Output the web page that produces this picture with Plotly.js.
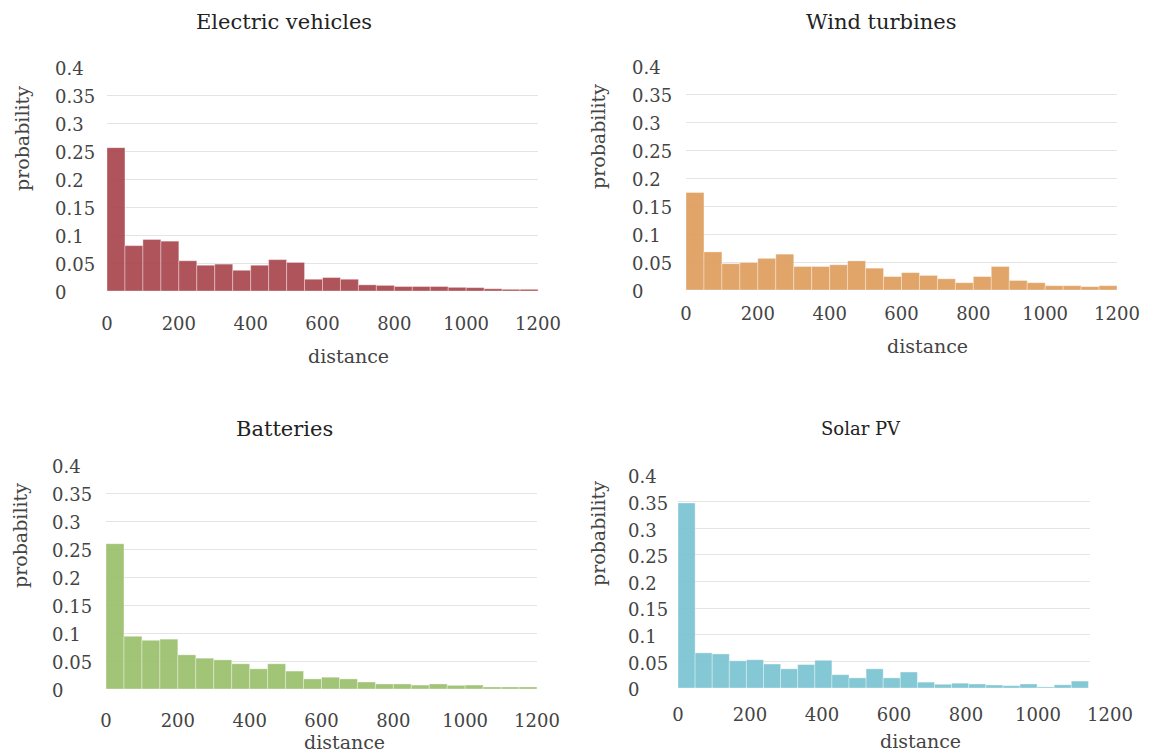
<!DOCTYPE html>
<html>
<head>
<meta charset="utf-8">
<script src="https://cdn.plot.ly/plotly-3.0.1.min.js"></script>
<style>
  html, body { margin: 0; padding: 0; background: #ffffff; }
  #chart { width: 1150px; height: 756px; }
</style>
</head>
<body>
<div id="chart"></div>
<script>
// ---------------- data ----------------
const panelTitles = ["Electric vehicles", "Wind turbines", "Batteries", "Solar PV"];
const binStarts = [0, 50, 100, 150, 200, 250, 300, 350, 400, 450, 500, 550,
                   600, 650, 700, 750, 800, 850, 900, 950, 1000, 1050, 1100, 1150];
const solarBinStarts = [0, 47.5, 95, 142.5, 190, 237.5, 285, 332.5, 380, 427.5, 475, 522.5,
                        570, 617.5, 665, 712.5, 760, 807.5, 855, 902.5, 950, 997.5, 1045, 1092.5];
const evValues = [0.256, 0.081, 0.092, 0.089, 0.054, 0.046, 0.048, 0.037, 0.046, 0.056, 0.051, 0.021,
                  0.024, 0.021, 0.011, 0.010, 0.008, 0.008, 0.008, 0.0065, 0.006, 0.004, 0.003, 0.003];
const windValues = [0.174, 0.068, 0.047, 0.049, 0.0565, 0.064, 0.042, 0.042, 0.045, 0.052, 0.039, 0.024,
                    0.031, 0.026, 0.020, 0.013, 0.024, 0.042, 0.017, 0.013, 0.0077, 0.0077, 0.006, 0.0077];
const batteryValues = [0.2595, 0.094, 0.087, 0.089, 0.061, 0.055, 0.052, 0.045, 0.036, 0.045, 0.032, 0.018,
                       0.021, 0.018, 0.0125, 0.009, 0.009, 0.007, 0.009, 0.0065, 0.007, 0.0036, 0.0036, 0.0036];
const solarValues = [0.3475, 0.066, 0.064, 0.051, 0.053, 0.045, 0.036, 0.044, 0.052, 0.025, 0.019, 0.036,
                     0.019, 0.030, 0.011, 0.007, 0.009, 0.0075, 0.0056, 0.0044, 0.0075, 0.002, 0.006, 0.013];
const yTickVals = [0, 0.05, 0.1, 0.15, 0.2, 0.25, 0.3, 0.35, 0.4];
const yTickText = ["0", "0.05", "0.1", "0.15", "0.2", "0.25", "0.3", "0.35", "0.4"];
const gridVals = [0.05, 0.1, 0.15, 0.2, 0.25, 0.3, 0.35];
const xTickVals = [0, 200, 400, 600, 800, 1000, 1200];
const xTickText = ["0", "200", "400", "600", "800", "1000", "1200"];
const xTitle = "distance";
const yTitle = "probability";

// ---------------- layout (pixels) ----------------
const W = 1150, H = 756;
const FONT = "DejaVu Serif, Liberation Serif, serif";
const panels = [
  { starts: binStarts, values: evValues, width: 50, color: "rgba(167,65,73,0.9)",
    grid: [107, 538], lab: [107, 538], y: [67, 291],
    title: [284, 22, 21], xt: [348, 356], yt: [22, 139], xStand: 20, yStand: -55 },
  { starts: binStarts, values: windValues, width: 50, color: "rgba(222,154,89,0.9)",
    grid: [686, 1117], lab: [686, 1117], y: [66, 290],
    title: [881, 22, 21], xt: [927, 346], yt: [598, 137], xStand: 11, yStand: -57 },
  { starts: binStarts, values: batteryValues, width: 50, color: "rgba(151,190,104,0.9)",
    grid: [106, 537], lab: [106, 537], y: [465, 689],
    title: [284, 429, 21], xt: [344, 742], yt: [20, 536], xStand: 19, yStand: -57 },
  { starts: solarBinStarts, values: solarValues, width: 47.5, color: "rgba(118,194,207,0.9)",
    grid: [678, 1090], lab: [678, 1110], y: [475, 688],
    title: [861, 428, 18], xt: [920, 741], yt: [598, 534], xStand: 14, yStand: -53 }
];

const fx = p => p / W;
const fy = p => 1 - p / H;

const data = [];
const layout = {
  width: W, height: H,
  margin: { l: 0, r: 0, t: 0, b: 0 },
  paper_bgcolor: "#ffffff",
  plot_bgcolor: "rgba(0,0,0,0)",
  showlegend: false,
  font: { family: FONT, color: "#444444", size: 18 },
  annotations: []
};

panels.forEach((p, i) => {
  const g = i + 1, d = i + 5;
  const yDom = [fy(p.y[1]), fy(p.y[0])];
  // grid subplot (drawn first, below bars)
  layout["xaxis" + g] = { domain: [fx(p.grid[0]), fx(p.grid[1])], anchor: "y" + g,
    range: [0, 1], visible: false, fixedrange: true };
  layout["yaxis" + g] = { domain: yDom, anchor: "x" + g, range: [0, 0.4],
    tickmode: "array", tickvals: gridVals, showticklabels: false, ticks: "",
    showgrid: true, gridcolor: "#e4e4e4", gridwidth: 1, zeroline: false, showline: false, fixedrange: true };
  data.push({ type: "scatter", x: [], y: [], xaxis: "x" + g, yaxis: "y" + g,
    hoverinfo: "skip", showlegend: false });

  // data subplot
  layout["xaxis" + d] = { domain: [fx(p.lab[0]), fx(p.lab[1])], anchor: "y" + d,
    range: [0, 1200], tickmode: "array", tickvals: xTickVals, ticktext: xTickText,
    ticks: "", showgrid: false, zeroline: false, showline: false,
    ticklabelstandoff: p.xStand,
    tickfont: { family: FONT, size: 18, color: "#444444" }, fixedrange: true };
  layout["yaxis" + d] = { domain: yDom, anchor: "x" + d, range: [0, 0.4],
    tickmode: "array", tickvals: yTickVals, ticktext: yTickText,
    ticks: "", showgrid: false, zeroline: false, showline: false,
    ticklabelposition: "inside", ticklabelstandoff: p.yStand, ticklabeloverflow: "allow",
    ticklabelshift: 2,
    tickfont: { family: FONT, size: 18, color: "#444444" }, fixedrange: true };
  data.push({
    type: "bar", x: p.starts, y: p.values, xaxis: "x" + d, yaxis: "y" + d,
    width: p.width, offset: 0,
    marker: { color: p.color, line: { color: "rgba(255,255,255,0.35)", width: 1 } },
    hoverinfo: "x+y", showlegend: false
  });

  layout.annotations.push({ text: panelTitles[i], xref: "paper", yref: "paper",
    x: fx(p.title[0]), y: fy(p.title[1]), xanchor: "center", yanchor: "middle",
    showarrow: false, font: { family: FONT, size: p.title[2], color: "#222222" } });
  layout.annotations.push({ text: xTitle, xref: "paper", yref: "paper",
    x: fx(p.xt[0]), y: fy(p.xt[1]), xanchor: "center", yanchor: "middle",
    showarrow: false, font: { family: FONT, size: 19, color: "#444444" } });
  layout.annotations.push({ text: yTitle, xref: "paper", yref: "paper",
    x: fx(p.yt[0]), y: fy(p.yt[1]), xanchor: "center", yanchor: "middle", textangle: -90,
    showarrow: false, font: { family: FONT, size: 19, color: "#444444" } });
});

Plotly.newPlot("chart", data, layout, { displayModeBar: false, staticPlot: true });
</script>
</body>
</html>
